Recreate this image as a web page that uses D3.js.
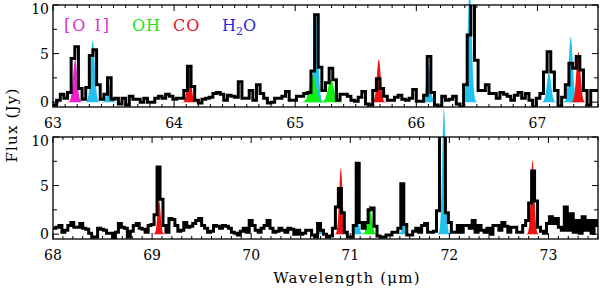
<!DOCTYPE html>
<html><head><meta charset="utf-8">
<script src="https://cdn.jsdelivr.net/npm/d3@7"></script>
<style>
body{margin:0;background:#fff;}
</style></head><body><svg id="c" width="600" height="291" font-family="DejaVu Serif, Liberation Serif, serif"></svg>
<script>
// ---------- data ----------
const binWidth = 0.03;
const topRange = [63.0, 67.5];
const bottomRange = [68.0, 73.5];
const topTicks = [63, 64, 65, 66, 67];
const bottomTicks = [68, 69, 70, 71, 72, 73];
const yTickLabels = [0, 5, 10];
const fluxTop = [
 -0.3,0.2,0.8,0.4,1.0,4.5,5.7,1.4,0.3,1.5,
 4.8,5.4,1.8,0.3,0.8,2.5,0.3,0.4,-0.2,0.4,
 -0.3,0.6,0.3,0.3,0.0,0.4,0.0,0.0,0.4,0.6,
 0.4,0.8,0.6,0.3,0.4,0.4,1.2,3.7,1.6,0.2,
 -0.1,0.3,0.4,0.5,0.9,1.0,0.8,0.2,0.7,0.6,
 0.5,2.1,0.4,0.4,1.2,0.2,1.8,0.9,0.4,-0.1,
 0.0,0.4,0.4,0.6,1.1,0.2,0.2,0.6,0.6,0.9,
 1.0,3.2,9.0,3.6,1.2,2.0,3.5,2.3,0.2,0.8,
 0.8,0.6,0.2,0.1,0.5,1.1,-0.2,-0.3,1.2,2.4,
 1.4,0.6,0.2,0.2,0.5,0.7,0.3,0.2,0.4,1.3,
 0.1,0.1,0.7,4.7,1.0,-0.3,-0.5,0.6,0.2,0.3,
 0.6,-0.2,-0.5,1.8,6.9,10.3,4.3,1.2,1.2,1.8,
 0.9,0.9,0.4,1.0,0.8,0.6,0.2,0.7,1.0,0.4,
 0.9,0.2,-0.5,0.4,0.9,3.1,5.2,3.1,1.2,-0.4,
 0.5,1.8,4.0,3.5,4.7,3.3,1.2,-0.3,1.2,1.2];
const fluxBottom = [
 0.6,0.7,0.9,0.2,0.4,0.9,1.2,0.7,0.7,1.1,
 0.6,0.5,0.1,-0.3,-0.3,0.6,0.5,0.4,0.1,0.1,
 -0.4,0.2,1.1,0.7,0.6,-0.3,0.3,0.9,1.1,0.6,
 0.5,0.2,0.9,1.0,2.0,6.9,3.6,0.9,0.2,1.6,
 1.5,0.9,0.3,0.4,1.2,0.7,0.8,1.1,1.4,1.6,
 0.9,0.6,0.2,0.3,0.9,0.8,0.6,0.9,0.8,0.6,
 0.2,0.1,-0.1,0.3,0.6,0.2,1.4,0.9,0.4,0.2,
 0.6,0.9,1.4,0.6,0.2,0.3,0.6,0.4,0.2,0.6,
 0.5,0.0,0.4,0.0,0.1,0.4,0.4,-0.1,-0.3,1.1,
 0.4,0.0,-0.3,-0.2,0.6,2.8,4.7,2.2,0.2,-0.3,
 -0.3,0.9,7.3,1.2,0.6,1.2,2.5,2.7,0.8,-0.2,
 -0.3,-0.3,-0.1,-0.1,0.2,0.2,0.6,5.2,1.0,-0.1,
 -0.1,0.3,0.6,0.2,0.9,1.1,0.2,0.2,0.3,2.4,
 10.3,10.3,2.2,1.2,0.2,0.2,0.9,0.2,0.9,0.9,
 0.6,1.4,0.2,0.9,0.4,0.2,0.6,0.0,0.9,0.9,
 0.4,1.2,0.8,0.2,0.7,0.7,0.2,0.2,0.9,1.4,
 3.2,6.5,3.4,0.7,0.3,0.1,1.1,1.8,1.1,1.6,
 0.7,0.4,2.8,0.4,2.1,0.2,1.4,0.1,1.8,0.4,
 1.4,0.1,1.4,0.9];
// fitted line models (gaussians): centre (um), peak (Jy), width sigma (um), species
const lineWave = [63.183,63.328,63.465,64.125,65.145,65.172,65.295,65.69,66.10,66.44,67.095,67.275,67.338,
                  69.07,70.69,70.905,71.068,71.195,71.54,71.945,72.84];
const linePeak = [4.4,6.3,1.7,3.8,2.8,9.0,2.3,4.4,3.8,11.5,3.0,6.7,5.2,
                  3.5,0.8,6.8,2.2,3.0,1.2,12.9,7.6];
const lineSigma = [0.017,0.017,0.017,0.016,0.027,0.017,0.025,0.016,0.017,0.017,0.018,0.017,0.017,
                   0.016,0.018,0.017,0.018,0.022,0.018,0.017,0.017];
const lineSpecies = ["OI","H2O","H2O","CO","OH","H2O","OH","CO","H2O","H2O","H2O","H2O","CO",
                     "CO","H2O","CO","H2O","OH","H2O","H2O","CO"];
const speciesOrder = ["H2O","OH","CO","OI"];

// ---------- styles ----------
const fillColor = {OI:"#ee22cc", OH:"#11ee11", CO:"#ee1111", H2O:"#22c2ee"};
const legend = [
  {key:"OI", text:"[O I]", x:64, color:"#e030d0"},
  {key:"OH", text:"OH", x:132, color:"#22e022"},
  {key:"CO", text:"CO", x:173, color:"#e81028"},
  {key:"H2O", text:"H2O", x:222, color:"#2828e0"}
];

const svg = d3.select("#c");
const L = 53, R = 598;
const panels = [
  {range: topRange, flux: fluxTop, ticks: topTicks, top: 5, bottom: 107},
  {range: bottomRange, flux: fluxBottom, ticks: bottomTicks, top: 137, bottom: 239}
];

panels.forEach((p, pi) => {
  const x = d3.scaleLinear().domain(p.range).range([L, R]);
  const y = d3.scaleLinear().domain([-0.5, 10]).range([p.bottom, p.top]);
  const g = svg.append("g");

  // model fills
  speciesOrder.forEach(sp => {
    lineWave.forEach((c, k) => {
      if (lineSpecies[k] !== sp || c < p.range[0] || c > p.range[1]) return;
      const s = lineSigma[k];
      const pts = d3.range(-4, 4.001, 0.1).map(t => [c + t * s, linePeak[k] * Math.exp(-0.5 * t * t)]);
      g.append("path")
        .attr("d", d3.area().x(d => x(d[0])).y0(y(0)).y1(d => y(d[1]))(pts))
        .attr("fill", fillColor[sp]);
    });
  });

  // histogram
  const clipId = "clip" + pi;
  svg.append("clipPath").attr("id", clipId).append("rect")
    .attr("x", L).attr("y", p.top).attr("width", R - L).attr("height", p.bottom - p.top);
  const steps = p.flux.map((v, i) => [p.range[0] + i * binWidth, v]);
  steps.push([p.range[0] + p.flux.length * binWidth, p.flux[p.flux.length - 1]]);
  g.append("path")
    .attr("d", d3.line().x(d => x(d[0])).y(d => y(d[1])).curve(d3.curveStepAfter)(steps))
    .attr("fill", "none").attr("stroke", "#000").attr("stroke-width", 3)
    .attr("clip-path", `url(#${clipId})`);

  // frame
  g.append("rect").attr("x", L).attr("y", p.top).attr("width", R - L).attr("height", p.bottom - p.top)
    .attr("fill", "none").attr("stroke", "#000").attr("stroke-width", 1.3);

  // x ticks (inward) bottom and top
  const minor = d3.range(Math.round(p.range[0] * 10), Math.round(p.range[1] * 10) + 1).map(v => v / 10);
  minor.forEach(v => {
    const isMajor = Math.abs(v - Math.round(v)) < 1e-6;
    const len = isMajor ? 6 : 3;
    [[p.bottom, -1], [p.top, 1]].forEach(([yy, dir]) => {
      g.append("line").attr("x1", x(v)).attr("x2", x(v)).attr("y1", yy).attr("y2", yy + dir * len)
        .attr("stroke", "#000").attr("stroke-width", 1);
    });
  });
  g.selectAll("text.xt").data(p.ticks).enter().append("text")
    .attr("x", d => x(d)).attr("y", p.bottom + 21)
    .attr("text-anchor", "middle").attr("font-size", 14).text(d => d);

  // y ticks
  d3.range(0, 10.01, 2.5).forEach(v => {
    const len = (v % 5 === 0) ? 6 : 4;
    g.append("line").attr("x1", L).attr("x2", L + len).attr("y1", y(v)).attr("y2", y(v)).attr("stroke", "#000");
    g.append("line").attr("x1", R).attr("x2", R - len).attr("y1", y(v)).attr("y2", y(v)).attr("stroke", "#000");
  });
  yTickLabels.forEach(v => {
    g.append("text").attr("x", L - 4).attr("y", y(v) + 5 + (v === 10 ? 4 : 0))
      .attr("text-anchor", "end").attr("font-size", 14).text(v);
  });
});

// legend
legend.forEach(l => {
  const t = svg.append("text").attr("x", l.x).attr("y", 31).attr("font-size", 16)
    .attr("fill", l.color);
  if (l.key === "H2O") {
    t.append("tspan").text("H");
    t.append("tspan").attr("font-size", 11).attr("dy", 4).text("2");
    t.append("tspan").attr("dy", -4).text("O");
  } else {
    t.attr("letter-spacing", l.key === "OI" ? 2 : 1).text(l.text);
  }
});

// axis titles
svg.append("text").attr("x", 347).attr("y", 283).attr("text-anchor", "middle")
  .attr("font-size", 15).attr("letter-spacing", 1.2).text("Wavelength (\u03bcm)");
svg.append("text").attr("transform", "translate(17,125) rotate(-90)").attr("text-anchor", "middle")
  .attr("font-size", 15).attr("letter-spacing", 1.2).text("Flux (Jy)");
</script></body></html>
